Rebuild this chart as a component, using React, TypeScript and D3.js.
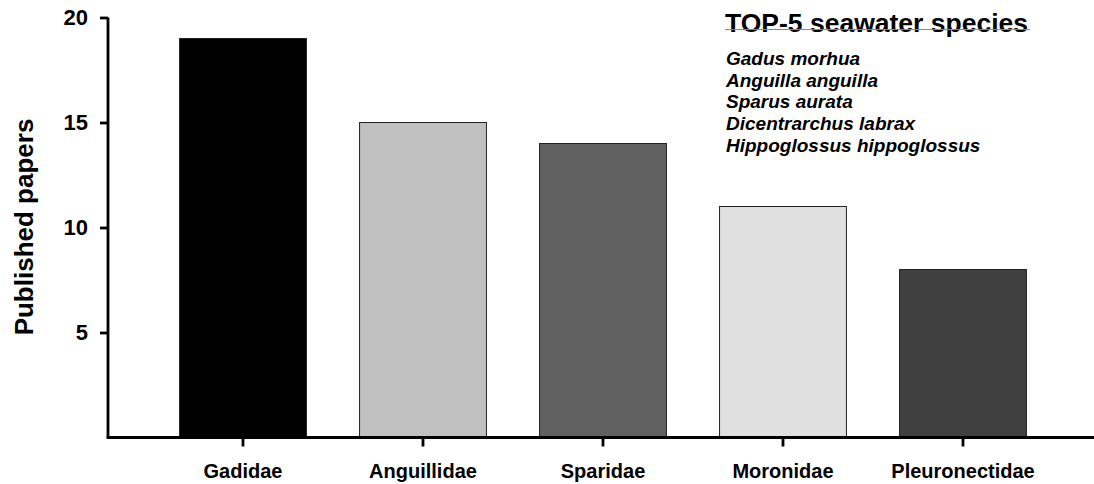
import React, { useEffect, useRef } from 'react';
import * as d3 from 'd3';

const families = ['Gadidae', 'Anguillidae', 'Sparidae', 'Moronidae', 'Pleuronectidae'];
const papers = [19, 15, 14, 11, 8];
const barColors = ['#000000', '#c0c0c0', '#606060', '#e0e0e0', '#404040'];
const yTicks = [5, 10, 15, 20];
const topSpecies = [
  'Gadus morhua',
  'Anguilla anguilla',
  'Sparus aurata',
  'Dicentrarchus labrax',
  'Hippoglossus hippoglossus',
];

const App = () => {
  const ref = useRef<SVGSVGElement>(null);

  useEffect(() => {
    const svg = d3.select(ref.current);
    svg.selectAll('*').remove();

    const font = 'Liberation Sans, Arial, sans-serif';
    const axisX = 108;
    const axisY = 437.5;

    const y = d3.scaleLinear().domain([0, 20]).range([axisY, 17.5]);
    const x = d3
      .scaleBand()
      .domain(families)
      .range([153, 1053])
      .paddingInner(0.295)
      .paddingOuter(0.1475);

    // bars
    svg
      .append('g')
      .selectAll('rect')
      .data(families)
      .enter()
      .append('rect')
      .attr('x', (d) => x(d) ?? 0)
      .attr('y', (d, i) => y(papers[i]))
      .attr('width', x.bandwidth())
      .attr('height', (d, i) => axisY - y(papers[i]))
      .attr('fill', (d, i) => barColors[i])
      .attr('stroke', '#222')
      .attr('stroke-width', 1);

    // y axis
    const yAxis = svg
      .append('g')
      .attr('transform', 'translate(' + axisX + ',0)')
      .call(d3.axisLeft(y).tickValues(yTicks).tickSize(8).tickPadding(12));
    yAxis.select('.domain').attr('d', 'M0,' + y(20) + 'V' + axisY).attr('stroke-width', 2.8);
    yAxis.selectAll('.tick line').attr('stroke-width', 2.8);
    yAxis
      .selectAll('.tick text')
      .attr('font-family', font)
      .attr('font-weight', 'bold')
      .attr('font-size', 22)
      .attr('fill', '#000');

    // x axis
    const xAxis = svg
      .append('g')
      .attr('transform', 'translate(0,' + axisY + ')')
      .call(d3.axisBottom(x).tickSize(9).tickPadding(17));
    xAxis.select('.domain').attr('d', 'M' + (axisX - 1.4) + ',0H1094').attr('stroke-width', 2.8);
    xAxis.selectAll('.tick line').attr('stroke-width', 2.8);
    xAxis
      .selectAll('.tick text')
      .attr('font-family', font)
      .attr('font-weight', 'bold')
      .attr('font-size', 20)
      .attr('fill', '#000');

    // y label
    svg
      .append('text')
      .attr('transform', 'translate(33,227) rotate(-90)')
      .attr('text-anchor', 'middle')
      .attr('font-family', font)
      .attr('font-weight', 'bold')
      .attr('font-size', 26)
      .text('Published papers');

    // legend block
    svg
      .append('text')
      .attr('x', 725)
      .attr('y', 32)
      .attr('font-family', font)
      .attr('font-weight', 'bold')
      .attr('font-size', 26.5)
      .text('TOP-5 seawater species');
    svg
      .append('line')
      .attr('x1', 725)
      .attr('x2', 1030)
      .attr('y1', 29.5)
      .attr('y2', 29.5)
      .attr('stroke', '#888')
      .attr('stroke-width', 1);

    svg
      .append('g')
      .selectAll('text')
      .data(topSpecies)
      .enter()
      .append('text')
      .attr('x', 726)
      .attr('y', (d, i) => 65 + i * 21.7)
      .attr('font-family', font)
      .attr('font-weight', 'bold')
      .attr('font-style', 'italic')
      .attr('font-size', 19)
      .text((d) => d);
  }, []);

  return (
    <svg
      ref={ref}
      width={1094}
      height={484}
      style={{ position: 'absolute', left: 0, top: 0, background: '#fff' }}
    />
  );
};

export default App;
